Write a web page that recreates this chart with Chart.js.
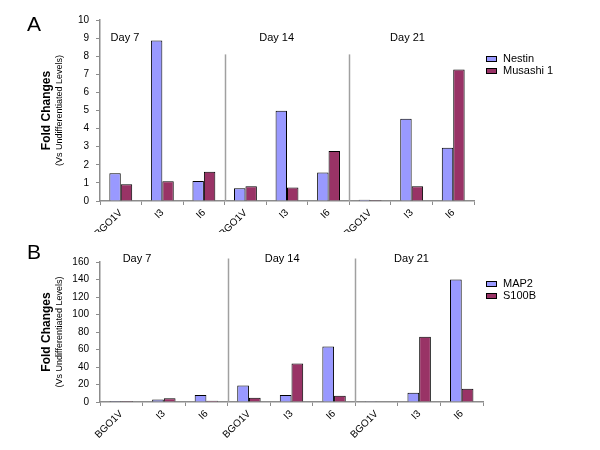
<!DOCTYPE html>
<html>
<head>
<meta charset="utf-8">
<script src="https://cdn.jsdelivr.net/npm/chart.js@4/dist/chart.umd.min.js"></script>
<style>
    body { margin: 0; background: #fff; }
    #wrap { position: relative; width: 600px; height: 450px; }
    #wrapA { position: absolute; left: 0; top: 0; width: 600px; height: 232px; }
    #wrapB { position: absolute; left: 0; top: 232px; width: 600px; height: 218px; }
</style>
</head>
<body>
<div id="wrap">
    <div id="wrapA"><canvas id="chartA"></canvas></div>
    <div id="wrapB"><canvas id="chartB"></canvas></div>
</div>
<script>
// Data
const categories = ['BGO1V', 'I3', 'I6', 'BGO1V', 'I3', 'I6', 'BGO1V', 'I3', 'I6'];
const dayLabels = ['Day 7', 'Day 14', 'Day 21'];

const nestin = [1.54, 8.87, 1.11, 0.70, 4.98, 1.58, 0.07, 4.54, 2.94];
const musashi1 = [0.93, 1.09, 1.61, 0.82, 0.74, 2.76, 0.05, 0.82, 7.26];

const map2 = [1.2, 3.0, 8.0, 19.0, 8.0, 63.5, 1.0, 10.6, 140.0];
const s100b = [1.2, 4.2, 1.5, 4.9, 44.0, 7.2, 0.5, 74.5, 15.2];

const FONT = "'Liberation Sans', Arial, sans-serif";
const BLUE = '#9999FF';
const PLUM = '#993366';
const AXIS = '#8c8c8c';

// --- PLUGIN: panel letter, y title, day labels, separators, legend ---
const decorPlugin = {
    id: 'decor',
    afterDraw(chart, args, opts) {
        const ctx = chart.ctx;
        const x = chart.scales.x;
        const y = chart.scales.y;
        const area = chart.chartArea;
        ctx.save();

        // separators between days
        ctx.strokeStyle = '#a0a0a0';
        ctx.lineWidth = 1.5;
        opts.sepAt.forEach(i => {
            const px = Math.round(x.getPixelForValue(i)) + 0.5;
            ctx.beginPath();
            ctx.moveTo(px, y.getPixelForValue(opts.sepTop));
            ctx.lineTo(px, area.bottom);
            ctx.stroke();
        });

        // day labels
        ctx.fillStyle = '#000';
        ctx.font = '11px ' + FONT;
        ctx.textAlign = 'center';
        ctx.textBaseline = 'middle';
        dayLabels.forEach((d, i) => {
            ctx.fillText(d, x.getPixelForValue(opts.dayAt[i]), y.getPixelForValue(opts.dayY));
        });

        // panel letter
        ctx.font = '21px ' + FONT;
        ctx.fillText(opts.letter, 34, opts.letterY);

        // y title (two lines, rotated)
        const cy = (area.top + area.bottom) / 2;
        ctx.save();
        ctx.translate(47, cy);
        ctx.rotate(-Math.PI / 2);
        ctx.font = 'bold 12px ' + FONT;
        ctx.fillText('Fold Changes', 0, 0);
        ctx.font = '9px ' + FONT;
        ctx.fillText('(Vs Undifferentiated Levels)', 0, 13);
        ctx.restore();

        // legend
        ctx.textAlign = 'left';
        ctx.font = '11px ' + FONT;
        chart.data.datasets.forEach((ds, i) => {
            const ly = opts.legendY + i * 12;
            ctx.fillStyle = ds.backgroundColor;
            ctx.fillRect(486, ly - 3, 11, 6);
            ctx.strokeStyle = '#000';
            ctx.lineWidth = 1;
            ctx.strokeRect(486.5, ly - 2.5, 10, 5);
            ctx.fillStyle = '#000';
            ctx.fillText(ds.label, 503, ly);
        });

        ctx.restore();
    }
};

function makeChart(id, labels1, data1, labels2, data2, cfg) {
    const ctx = document.getElementById(id).getContext('2d');
    return new Chart(ctx, {
        type: 'bar',
        data: {
            labels: categories,
            datasets: [
                { label: labels1, data: data1, backgroundColor: BLUE, borderColor: '#000', borderWidth: 1 },
                { label: labels2, data: data2, backgroundColor: PLUM, borderColor: '#000', borderWidth: 1 }
            ]
        },
        options: {
            responsive: true,
            maintainAspectRatio: false,
            animation: false,
            layout: { padding: { left: 0, top: cfg.padTop, right: cfg.padRight, bottom: 0 } },
            datasets: { bar: { categoryPercentage: 0.55, barPercentage: 1.0 } },
            plugins: {
                legend: { display: false },
                tooltip: { enabled: false },
                decor: cfg.decor
            },
            scales: {
                x: {
                    afterFit: s => { s.height = cfg.xHeight; },
                    border: { color: AXIS, width: 1.5 },
                    grid: { display: true, drawOnChartArea: false, color: AXIS, tickLength: 4, offset: true },
                    ticks: { color: '#000', font: { family: FONT, size: 10 }, minRotation: 45, maxRotation: 45, padding: 2 }
                },
                y: {
                    min: 0,
                    max: cfg.yMax,
                    afterFit: s => { s.width = 100; },
                    border: { color: AXIS, width: 1.5 },
                    grid: { display: true, drawOnChartArea: false, color: AXIS, tickLength: 4 },
                    ticks: { stepSize: cfg.yStep, color: '#000', font: { family: FONT, size: 10 }, padding: 7 }
                }
            }
        },
        plugins: [decorPlugin]
    });
}

makeChart('chartA', 'Nestin', nestin, 'Musashi 1', musashi1, {
    padTop: 20, padRight: 126, xHeight: 31, yMax: 10, yStep: 1,
    decor: { letter: 'A', letterY: 25, sepAt: [2.5, 5.5], sepTop: 8.1, dayAt: [0.1, 3.75, 6.9], dayY: 9.0, legendY: 59 }
});

makeChart('chartB', 'MAP2', map2, 'S100B', s100b, {
    padTop: 30, padRight: 117, xHeight: 48, yMax: 160, yStep: 20,
    decor: { letter: 'B', letterY: 21, sepAt: [2.5, 5.5], sepTop: 164, dayAt: [0.37, 3.78, 6.82], dayY: 163, legendY: 52 }
});
</script>
</body>
</html>
